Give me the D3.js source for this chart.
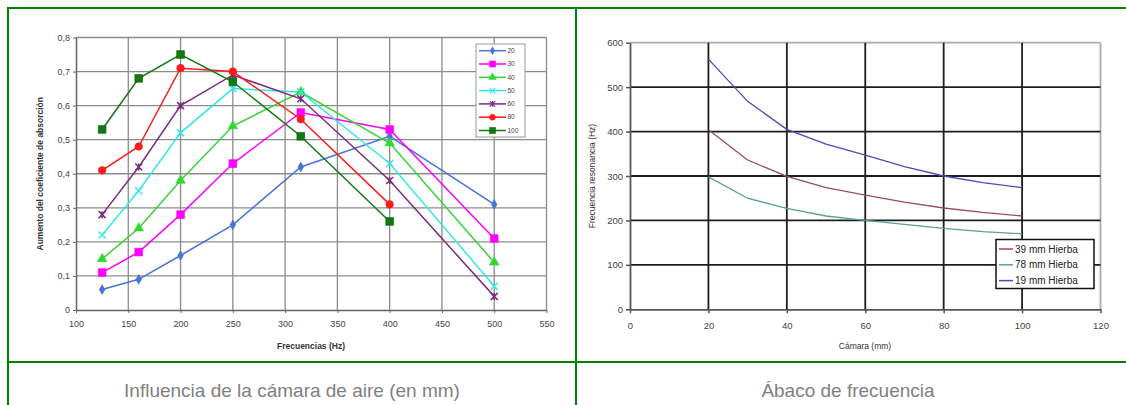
<!DOCTYPE html>
<html>
<head>
<meta charset="utf-8">
<script src="https://cdn.jsdelivr.net/npm/d3@7"></script>
<style>
  body { margin: 0; background: #fff; }
  svg { display: block; font-family: "Liberation Sans", Arial, sans-serif; }
</style>
</head>
<body>
<div id="chart"></div>
<script>
// --- data, left chart (absorption increase vs frequency, per air gap in mm)
const freqs = [125, 160, 200, 250, 315, 400, 500];
const gapNames = ["20", "30", "40", "50", "60", "80", "100"];
const gap20 = [0.06, 0.09, 0.16, 0.25, 0.42, 0.51, 0.31];
const gap30 = [0.11, 0.17, 0.28, 0.43, 0.58, 0.53, 0.21];
const gap40 = [0.15, 0.24, 0.38, 0.54, 0.64, 0.49, 0.14];
const gap50 = [0.22, 0.35, 0.52, 0.65, 0.64, 0.43, 0.07];
const gap60 = [0.28, 0.42, 0.60, 0.69, 0.62, 0.38, 0.04];
const gap80 = [0.41, 0.48, 0.71, 0.70, 0.56, 0.31];
const gap100 = [0.53, 0.68, 0.75, 0.67, 0.51, 0.26];
const xTicksL = [100, 150, 200, 250, 300, 350, 400, 450, 500, 550];
const yTicksL = [0, 0.1, 0.2, 0.3, 0.4, 0.5, 0.6, 0.7, 0.8];

// --- data, right chart (resonance frequency vs air gap)
const camara = [20, 30, 40, 50, 60, 70, 80, 90, 100];
const hierba39 = [404, 336, 299, 274, 257, 241, 228, 218, 210];
const hierba78 = [298, 250, 227, 210, 200, 191, 182, 175, 170];
const hierba19 = [563, 468, 405, 372, 347, 321, 300, 285, 274];
const curveNames = ["39 mm Hierba", "78 mm Hierba", "19 mm Hierba"];
const xTicksR = [0, 20, 40, 60, 80, 100, 120];
const yTicksR = [0, 100, 200, 300, 400, 500, 600];

const W = 1126, H = 405;
const svg = d3.select("#chart").append("svg")
  .attr("width", W).attr("height", H);
svg.append("rect").attr("width", W).attr("height", H).attr("fill", "#fff");

const fmt = d => d3.format(".1f")(d).replace(".", ",").replace(/^0,0$/, "0");

// ================= LEFT CHART =================
const xL = d3.scaleLinear().domain([100, 550]).range([76, 546.5]);
const yL = d3.scaleLinear().domain([0, 0.8]).range([310, 37.5]);
const gL = svg.append("g");

// grid
gL.selectAll(".vg").data(xTicksL.slice(1)).enter().append("line")
  .attr("x1", d => xL(d)).attr("x2", d => xL(d))
  .attr("y1", yL(0.8)).attr("y2", yL(0))
  .attr("stroke", "#8c8c8c").attr("stroke-width", 1.3);
gL.selectAll(".hg").data(yTicksL.slice(1)).enter().append("line")
  .attr("x1", xL(100)).attr("x2", xL(550))
  .attr("y1", d => yL(d)).attr("y2", d => yL(d))
  .attr("stroke", "#8c8c8c").attr("stroke-width", 1.3);

// axes
const axL = gL.append("g").attr("transform", `translate(0,${yL(0)})`)
  .call(d3.axisBottom(xL).tickValues(xTicksL).tickSize(3).tickSizeOuter(0));
const ayL = gL.append("g").attr("transform", `translate(${xL(100)},0)`)
  .call(d3.axisLeft(yL).tickValues(yTicksL).tickSize(3).tickSizeOuter(0).tickFormat(fmt));
[axL, ayL].forEach(a => {
  a.select(".domain").attr("stroke", "#666").attr("stroke-width", 1.5);
  a.selectAll(".tick line").attr("stroke", "#666");
  a.selectAll("text").attr("fill", "#444").attr("font-size", 9)
    .attr("font-family", "Liberation Sans, Arial, sans-serif");
});
axL.selectAll("text").attr("dy", "1.25em");

gL.append("text").attr("x", 311).attr("y", 349)
  .attr("text-anchor", "middle").attr("font-size", 8.5).attr("font-weight", "bold")
  .attr("fill", "#333").text("Frecuencias (Hz)");
gL.append("text").attr("transform", `translate(43,${(yL(0) + yL(0.8)) / 2}) rotate(-90)`)
  .attr("text-anchor", "middle").attr("font-size", 8.5).attr("font-weight", "bold")
  .attr("fill", "#333").text("Aumento del coeficiente de absorción");

const gapSeries = [gap20, gap30, gap40, gap50, gap60, gap80, gap100];
const gapColors = ["#4a72d8", "#ff00ff", "#33d633", "#33e8e8", "#7a2c7a", "#ff1a1a", "#117a11"];

function marker(g, i, color) {
  if (i === 3 || i === 4) {
    const s = 3.5;
    g.append("path").attr("d", `M${-s},${-s}L${s},${s}M${-s},${s}L${s},${-s}` + (i === 4 ? `M0,${-s}L0,${s}` : ""))
      .attr("stroke", color).attr("stroke-width", 1.5).attr("fill", "none");
  } else {
    const types = [d3.symbolDiamond, d3.symbolSquare, d3.symbolTriangle, null, null, d3.symbolCircle, d3.symbolSquare];
    const sizes = [28, 60, 40, 0, 0, 45, 60];
    g.append("path").attr("d", d3.symbol().type(types[i]).size(sizes[i])())
      .attr("fill", color).attr("stroke", i === 6 ? "#0a5a0a" : color).attr("stroke-width", 0.6);
  }
}

const lineL = d3.line().x((d, j) => xL(freqs[j])).y(d => yL(d));
gapSeries.forEach((vals, i) => {
  gL.append("path").attr("d", lineL(vals)).attr("fill", "none")
    .attr("stroke", gapColors[i]).attr("stroke-width", 1.5);
});
gapSeries.forEach((vals, i) => {
  vals.forEach((v, j) => {
    const m = gL.append("g").attr("transform", `translate(${xL(freqs[j])},${yL(v)})`);
    marker(m, i, gapColors[i]);
  });
});

// legend
const lgL = gL.append("g");
lgL.append("rect").attr("x", 476).attr("y", 44).attr("width", 49).attr("height", 93)
  .attr("fill", "#fff").attr("stroke", "#999").attr("stroke-width", 1);
gapNames.forEach((n, i) => {
  const y = 50.7 + i * 13.3;
  lgL.append("line").attr("x1", 479).attr("x2", 506).attr("y1", y).attr("y2", y)
    .attr("stroke", gapColors[i]).attr("stroke-width", 1.5);
  const m = lgL.append("g").attr("transform", `translate(492.5,${y}) scale(0.8)`);
  marker(m, i, gapColors[i]);
  lgL.append("text").attr("x", 507.5).attr("y", y).attr("dy", "0.35em")
    .attr("font-size", 6.5).attr("fill", "#444").text(n);
});

// ================= RIGHT CHART =================
const xR = d3.scaleLinear().domain([0, 120]).range([630, 1100.5]);
const yR = d3.scaleLinear().domain([0, 600]).range([309.3, 42.7]);
const gR = svg.append("g");

// frame top/right
gR.append("line").attr("x1", xR(0)).attr("x2", xR(120)).attr("y1", yR(600)).attr("y2", yR(600))
  .attr("stroke", "#aaa").attr("stroke-width", 1.8);
gR.append("line").attr("x1", xR(120)).attr("x2", xR(120)).attr("y1", yR(600)).attr("y2", yR(0))
  .attr("stroke", "#aaa").attr("stroke-width", 1.8);
gR.selectAll(".vg").data([20, 40, 60, 80, 100]).enter().append("line")
  .attr("x1", d => xR(d)).attr("x2", d => xR(d))
  .attr("y1", yR(600)).attr("y2", yR(0))
  .attr("stroke", "#1e1e1e").attr("stroke-width", 1.8);
gR.selectAll(".hg").data([100, 200, 300, 400, 500]).enter().append("line")
  .attr("x1", xR(0)).attr("x2", xR(120))
  .attr("y1", d => yR(d)).attr("y2", d => yR(d))
  .attr("stroke", "#1e1e1e").attr("stroke-width", 1.8);

const axR = gR.append("g").attr("transform", `translate(0,${yR(0)})`)
  .call(d3.axisBottom(xR).tickValues(xTicksR).tickSize(4).tickSizeOuter(0));
const ayR = gR.append("g").attr("transform", `translate(${xR(0)},0)`)
  .call(d3.axisLeft(yR).tickValues(yTicksR).tickSize(4).tickSizeOuter(0));
[axR, ayR].forEach(a => {
  a.select(".domain").attr("stroke", "#555").attr("stroke-width", 1.8);
  a.selectAll(".tick line").attr("stroke", "#555").attr("stroke-width", 1.5);
  a.selectAll("text").attr("fill", "#444").attr("font-size", 9.5)
    .attr("font-family", "Liberation Sans, Arial, sans-serif");
});
axR.selectAll("text").attr("dy", "1.3em");

gR.append("text").attr("x", 865).attr("y", 349)
  .attr("text-anchor", "middle").attr("font-size", 8.5)
  .attr("fill", "#333").text("Cámara (mm)");
gR.append("text").attr("transform", `translate(595,${(yR(0) + yR(600)) / 2}) rotate(-90)`)
  .attr("text-anchor", "middle").attr("font-size", 8.5)
  .attr("fill", "#333").text("Frecuencia resonancia (Hz)");

const curveSeries = [hierba39, hierba78, hierba19];
const curveColors = ["#9a4c5c", "#5aa096", "#4b4bb5"];
const lineR = d3.line().x((d, j) => xR(camara[j])).y(d => yR(d));
curveSeries.forEach((vals, i) => {
  gR.append("path").attr("d", lineR(vals)).attr("fill", "none")
    .attr("stroke", curveColors[i]).attr("stroke-width", 1.3);
});

const lgR = gR.append("g");
lgR.append("rect").attr("x", 996).attr("y", 239.5).attr("width", 98).attr("height", 49)
  .attr("fill", "#fff").attr("stroke", "#111").attr("stroke-width", 1.5);
curveNames.forEach((n, i) => {
  const y = 249 + i * 15.8;
  lgR.append("line").attr("x1", 999).attr("x2", 1013).attr("y1", y).attr("y2", y)
    .attr("stroke", curveColors[i]).attr("stroke-width", 1.5);
  lgR.append("text").attr("x", 1015).attr("y", y).attr("dy", "0.36em")
    .attr("font-size", 10).attr("fill", "#222").text(n);
});

// ================= TABLE FRAME + CAPTIONS =================
const green = "#008000";
svg.append("line").attr("x1", 7).attr("x2", W).attr("y1", 8).attr("y2", 8)
  .attr("stroke", green).attr("stroke-width", 2);
svg.append("line").attr("x1", 7).attr("x2", W).attr("y1", 362).attr("y2", 362)
  .attr("stroke", green).attr("stroke-width", 2);
svg.append("line").attr("x1", 8).attr("x2", 8).attr("y1", 7).attr("y2", H)
  .attr("stroke", green).attr("stroke-width", 2);
svg.append("line").attr("x1", 576).attr("x2", 576).attr("y1", 7).attr("y2", H)
  .attr("stroke", green).attr("stroke-width", 2);

svg.append("text").attr("x", 292).attr("y", 397).attr("text-anchor", "middle")
  .attr("font-size", 19).attr("fill", "#808080").text("Influencia de la cámara de aire (en mm)");
svg.append("text").attr("x", 848).attr("y", 397).attr("text-anchor", "middle")
  .attr("font-size", 19).attr("fill", "#808080").text("Ábaco de frecuencia");
</script>
</body>
</html>
